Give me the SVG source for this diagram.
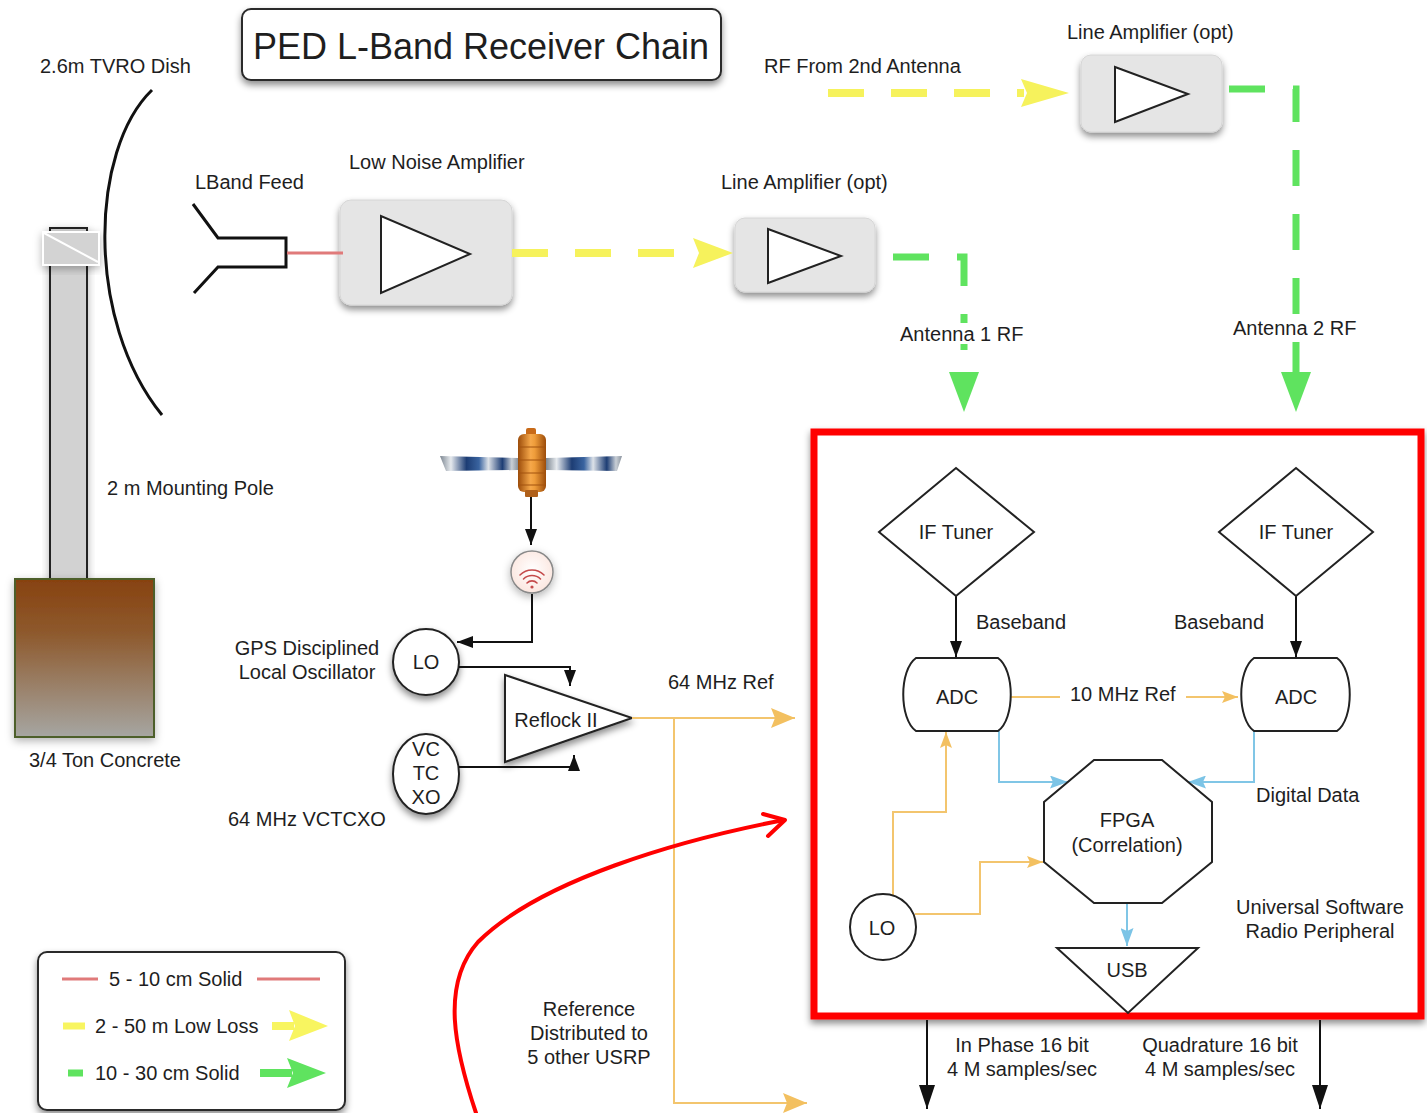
<svg xmlns="http://www.w3.org/2000/svg" width="1427" height="1113" viewBox="0 0 1427 1113">
  <defs>
    <style>
      .t { font-family: "Liberation Sans", Arial, sans-serif; font-size: 20px; fill: #1e1e1e; }
      .c { text-anchor: middle; }
      .shape { fill: #ffffff; stroke: #222222; stroke-width: 2; }
      .amp { fill: #e5e5e5; stroke: #d6d6d6; stroke-width: 1; }
      .thin { fill: none; stroke: #111111; stroke-width: 2; }
      .orange { fill: none; stroke: #f3c56e; stroke-width: 2; }
      .blue { fill: none; stroke: #80c6e6; stroke-width: 2; }
      .yellow { fill: none; stroke: #f6f25c; stroke-width: 8; stroke-dasharray: 36 27; }
      .green { fill: none; stroke: #5fe35f; stroke-width: 7; stroke-dasharray: 36 28; }
      .wifi { fill: none; stroke: #c44a4a; stroke-width: 1.6; stroke-linecap: round; }
    </style>
    <filter id="shadow" x="-20%" y="-20%" width="140%" height="150%">
      <feDropShadow dx="0" dy="4" stdDeviation="3.5" flood-color="#000000" flood-opacity="0.45"/>
    </filter>
    <filter id="softShadow" x="-20%" y="-20%" width="140%" height="150%">
      <feDropShadow dx="0" dy="3" stdDeviation="4" flood-color="#000000" flood-opacity="0.3"/>
    </filter>
    <marker id="arrBlack" viewBox="0 0 16 12" refX="16" refY="6" markerWidth="16" markerHeight="12" markerUnits="userSpaceOnUse" orient="auto">
      <path d="M0,0 L16,6 L0,12 Z" fill="#111111"/>
    </marker>
    <marker id="arrBlackBig" viewBox="0 0 24 16" refX="24" refY="8" markerWidth="24" markerHeight="16" markerUnits="userSpaceOnUse" orient="auto">
      <path d="M0,0 L24,8 L0,16 Z" fill="#111111"/>
    </marker>
    <marker id="arrOrange" viewBox="0 0 16 12" refX="16" refY="6" markerWidth="16" markerHeight="12" markerUnits="userSpaceOnUse" orient="auto">
      <path d="M0,0 L16,6 L0,12 L3,6 Z" fill="#f3c060"/>
    </marker>
    <marker id="arrOrangeBig" viewBox="0 0 24 20" refX="24" refY="10" markerWidth="24" markerHeight="20" markerUnits="userSpaceOnUse" orient="auto">
      <path d="M0,0 L24,10 L0,20 L4,10 Z" fill="#f3c060"/>
    </marker>
    <marker id="arrBlue" viewBox="0 0 18 13" refX="18" refY="6.5" markerWidth="18" markerHeight="13" markerUnits="userSpaceOnUse" orient="auto">
      <path d="M0,0 L18,6.5 L0,13 L3,6.5 Z" fill="#7cc4e6"/>
    </marker>
    <linearGradient id="concrete" x1="0" y1="0" x2="0" y2="1">
      <stop offset="0" stop-color="#874210"/>
      <stop offset="0.35" stop-color="#8e5a2e"/>
      <stop offset="1" stop-color="#a6a6a2"/>
    </linearGradient>
    <linearGradient id="satBody" x1="0" y1="0" x2="1" y2="0">
      <stop offset="0" stop-color="#9c4c0a"/>
      <stop offset="0.45" stop-color="#f6a84a"/>
      <stop offset="0.6" stop-color="#ee9c3a"/>
      <stop offset="1" stop-color="#9c4c0a"/>
    </linearGradient>
    <linearGradient id="panel" x1="0" y1="0" x2="1" y2="0">
      <stop offset="0" stop-color="#7d8792"/>
      <stop offset="0.14" stop-color="#e6eaee"/>
      <stop offset="0.34" stop-color="#1d3d74"/>
      <stop offset="0.5" stop-color="#3a64a0"/>
      <stop offset="0.62" stop-color="#dde2e8"/>
      <stop offset="0.8" stop-color="#1d3d74"/>
      <stop offset="0.92" stop-color="#c9cfd6"/>
      <stop offset="1" stop-color="#8a939e"/>
    </linearGradient>
    <radialGradient id="gpsFill" cx="0.5" cy="0.45" r="0.6">
      <stop offset="0" stop-color="#ffffff"/>
      <stop offset="1" stop-color="#fbe4dc"/>
    </radialGradient>
  </defs>

  <rect width="1427" height="1113" fill="#ffffff"/>

  <!-- Title -->
  <g id="title">
    <rect x="242" y="9" width="479" height="71" rx="9" fill="#ffffff" stroke="#2a2a2a" stroke-width="2" filter="url(#shadow)"/>
    <text class="t c" x="481" y="59" style="font-size:36px">PED L-Band Receiver Chain</text>
  </g>

  <!-- Antenna mount: pole, bracket, concrete base -->
  <g id="pole">
    <rect x="50" y="228" width="37" height="352" fill="#d2d2d2" stroke="#222222" stroke-width="2" filter="url(#softShadow)"/>
    <text class="t" x="107" y="495">2 m Mounting Pole</text>
  </g>
  <g id="bracket">
    <rect x="43" y="232" width="56" height="33" fill="#d3d3d3" stroke="#ffffff" stroke-width="2" filter="url(#softShadow)"/>
    <line x1="44" y1="233" x2="98" y2="262" stroke="#ffffff" stroke-width="2"/>
  </g>
  <g id="concrete-base">
    <rect x="15" y="579" width="139" height="158" fill="url(#concrete)" stroke="#4e5e2c" stroke-width="2" filter="url(#softShadow)"/>
    <text class="t" x="29" y="767">3/4 Ton Concrete</text>
  </g>

  <!-- Dish -->
  <g id="dish">
    <path d="M152,90 C90,150 85,320 162,415" fill="none" stroke="#111111" stroke-width="3"/>
    <text class="t" x="40" y="73">2.6m TVRO Dish</text>
  </g>

  <!-- Feed horn -->
  <g id="feed">
    <polyline points="193,204 218,238 286,238 286,267 218,267 194,293" fill="none" stroke="#111111" stroke-width="3"/>
    <text class="t" x="195" y="189">LBand Feed</text>
  </g>

  <!-- Amplifiers -->
  <g id="lna">
    <rect class="amp" x="340" y="200" width="172" height="105" rx="11" filter="url(#shadow)"/>
    <polygon class="shape" points="381,216 381,293 470,254"/>
    <text class="t" x="349" y="169">Low Noise Amplifier</text>
  </g>
  <g id="line-amp-1">
    <rect class="amp" x="735" y="218" width="140" height="74" rx="10" filter="url(#shadow)"/>
    <polygon class="shape" points="768,229 768,283 841,256"/>
    <text class="t" x="721" y="189">Line Amplifier (opt)</text>
  </g>
  <g id="line-amp-2">
    <rect class="amp" x="1081" y="55" width="141" height="77" rx="10" filter="url(#shadow)"/>
    <polygon class="shape" points="1115,67 1115,122 1188,94"/>
    <text class="t" x="1067" y="39">Line Amplifier (opt)</text>
  </g>
  <g id="rf-2nd-antenna">
    <text class="t" x="764" y="73">RF From 2nd Antenna</text>
  </g>

  <!-- GPS satellite and antenna -->
  <g id="satellite">
    <polygon points="440,456 518,458 518,470 446,471" fill="url(#panel)"/>
    <polygon points="546,458 622,456 617,471 546,470" fill="url(#panel)"/>
    <rect x="526" y="428" width="10" height="8" rx="2" fill="#c86a18"/>
    <rect x="518" y="434" width="28" height="58" rx="6" fill="url(#satBody)"/>
    <g stroke="#a2520e" stroke-width="1">
      <line x1="519" y1="447" x2="545" y2="447"/>
      <line x1="519" y1="460" x2="545" y2="460"/>
      <line x1="519" y1="473" x2="545" y2="473"/>
      <line x1="519" y1="485" x2="545" y2="485"/>
    </g>
    <rect x="525" y="490" width="13" height="7" rx="1" fill="#b0601a"/>
  </g>
  <g id="gps-antenna">
    <circle cx="532" cy="572" r="21" fill="url(#gpsFill)" stroke="#8a8a8a" stroke-width="1.5" filter="url(#softShadow)"/>
    <path class="wifi" d="M520,575 A17,17 0 0 1 544,575"/>
    <path class="wifi" d="M523.5,579 A12,12 0 0 1 540.5,579"/>
    <path class="wifi" d="M527,583 A7,7 0 0 1 537,583"/>
    <circle cx="532" cy="587" r="1.6" fill="#c44a4a"/>
  </g>

  <!-- Timing chain -->
  <g id="gps-lo">
    <circle class="shape" cx="426" cy="662" r="33" filter="url(#shadow)"/>
    <text class="t c" x="426" y="669">LO</text>
    <text class="t c" x="307" y="655">GPS Disciplined</text>
    <text class="t c" x="307" y="679">Local Oscillator</text>
  </g>
  <g id="vctcxo">
    <ellipse class="shape" cx="426" cy="774" rx="33" ry="40" filter="url(#shadow)"/>
    <text class="t c" x="426" y="756">VC</text>
    <text class="t c" x="426" y="780">TC</text>
    <text class="t c" x="426" y="804">XO</text>
    <text class="t" x="228" y="826">64 MHz VCTCXO</text>
  </g>
  <g id="reflock">
    <polygon class="shape" points="505,675 505,762 632,718" filter="url(#shadow)"/>
    <text class="t c" x="556" y="727">Reflock II</text>
  </g>

  <!-- USRP enclosure -->
  <g id="usrp">
    <rect x="814" y="432" width="607" height="584" fill="#ffffff" stroke="#ff0000" stroke-width="7" filter="url(#shadow)"/>
    <text class="t c" x="1320" y="914">Universal Software</text>
    <text class="t c" x="1320" y="938">Radio Peripheral</text>
  </g>

  <!-- Connectors -->
  <g id="connectors">
    <!-- RF cabling -->
    <line x1="287" y1="253" x2="343" y2="253" stroke="#e07a7a" stroke-width="3"/>
    <path class="yellow" d="M512,253 H696"/>
    <polygon points="693,238 733,253 693,268 699,253" fill="#f6f25c"/>
    <path class="yellow" d="M828,93 H1024"/>
    <polygon points="1021,79 1069,93 1021,107 1027,93" fill="#f6f25c"/>
    <path class="green" d="M893,257 H964 V374"/>
    <polygon points="949,372 979,372 964,412" fill="#5fe35f"/>
    <path class="green" d="M1229,89 H1296 V374"/>
    <polygon points="1281,372 1311,372 1296,412" fill="#5fe35f"/>

    <!-- GPS / reference path -->
    <path class="thin" d="M531,497 V545" marker-end="url(#arrBlack)"/>
    <path class="thin" d="M532,594 V642 H457" marker-end="url(#arrBlack)"/>
    <path class="thin" d="M459,667 H570 V686" marker-end="url(#arrBlack)"/>
    <path class="thin" d="M459,767 H574 V755" marker-end="url(#arrBlack)"/>
    <path class="orange" d="M632,718 H795" stroke-width="2.5" marker-end="url(#arrOrangeBig)"/>
    <path class="orange" d="M674,718 V1103 H807" stroke-width="2.5" marker-end="url(#arrOrangeBig)"/>

    <!-- Inside the USRP -->
    <path class="thin" d="M956,596 V657" marker-end="url(#arrBlack)"/>
    <path class="thin" d="M1296,596 V657" marker-end="url(#arrBlack)"/>
    <path class="orange" d="M1011,697 H1060" stroke-width="1.5"/>
    <path class="orange" d="M1186,697 H1238" stroke-width="1.5" marker-end="url(#arrOrange)"/>
    <path class="blue" d="M999,731 V782 H1068" marker-end="url(#arrBlue)"/>
    <path class="blue" d="M1254,731 V782 H1188" marker-end="url(#arrBlue)"/>
    <path class="blue" d="M1127,904 V946" marker-end="url(#arrBlue)"/>
    <path class="orange" d="M893,896 V812 H946 V732" marker-end="url(#arrOrange)"/>
    <path class="orange" d="M915,914 H980 V862 H1043" marker-end="url(#arrOrange)"/>

    <!-- Sample outputs -->
    <path class="thin" d="M927,1020 V1109" stroke-width="2.5" marker-end="url(#arrBlackBig)"/>
    <path class="thin" d="M1320,1020 V1109" stroke-width="2.5" marker-end="url(#arrBlackBig)"/>

    <!-- Callout -->
    <path d="M476,1113 C455,1050 440,985 478,942 C540,880 680,840 784,820" fill="none" stroke="#ff0000" stroke-width="4" stroke-linecap="round"/>
    <polyline points="763,814 785,820 768,836" fill="none" stroke="#ff0000" stroke-width="4" stroke-linecap="round" stroke-linejoin="round"/>
  </g>

  <!-- Connector labels -->
  <g id="link-labels">
    <rect x="897" y="323" width="128" height="21" fill="#ffffff"/>
    <text class="t" x="900" y="341">Antenna 1 RF</text>
    <text class="t" x="1233" y="335">Antenna 2 RF</text>
    <text class="t" x="668" y="689">64 MHz Ref</text>
    <text class="t c" x="589" y="1016">Reference</text>
    <text class="t c" x="589" y="1040">Distributed to</text>
    <text class="t c" x="589" y="1064">5 other USRP</text>
    <text class="t" x="976" y="629">Baseband</text>
    <text class="t" x="1174" y="629">Baseband</text>
    <text class="t" x="1070" y="701">10 MHz Ref</text>
    <text class="t" x="1256" y="802">Digital Data</text>
    <text class="t c" x="1022" y="1052">In Phase 16 bit</text>
    <text class="t c" x="1022" y="1076">4 M samples/sec</text>
    <text class="t c" x="1220" y="1052">Quadrature 16 bit</text>
    <text class="t c" x="1220" y="1076">4 M samples/sec</text>
  </g>

  <!-- USRP internals -->
  <g id="if-tuner-1">
    <polygon class="shape" points="956,468 1034,532 956,596 879,532"/>
    <text class="t c" x="956" y="539">IF Tuner</text>
  </g>
  <g id="if-tuner-2">
    <polygon class="shape" points="1296,468 1373,532 1296,596 1219,532"/>
    <text class="t c" x="1296" y="539">IF Tuner</text>
  </g>
  <g id="adc-1">
    <path class="shape" d="M916,658 H998 C1015,670 1015,719 998,731 H916 C899,719 899,670 916,658 Z"/>
    <text class="t c" x="957" y="704">ADC</text>
  </g>
  <g id="adc-2">
    <path class="shape" d="M1254,658 H1337 C1354,670 1354,719 1337,731 H1254 C1237,719 1237,670 1254,658 Z"/>
    <text class="t c" x="1296" y="704">ADC</text>
  </g>
  <g id="fpga">
    <polygon class="shape" points="1094,760 1162,760 1212,802 1212,862 1162,903 1094,903 1044,862 1044,802"/>
    <text class="t c" x="1127" y="827">FPGA</text>
    <text class="t c" x="1127" y="852">(Correlation)</text>
  </g>
  <g id="usrp-lo">
    <circle class="shape" cx="883" cy="927" r="33"/>
    <text class="t c" x="882" y="935">LO</text>
  </g>
  <g id="usb">
    <polygon class="shape" points="1057,948 1198,948 1128,1013"/>
    <text class="t c" x="1127" y="977">USB</text>
  </g>

  <!-- Legend -->
  <g id="legend">
    <rect x="38" y="952" width="307" height="158" rx="9" fill="#ffffff" stroke="#2a2a2a" stroke-width="2" filter="url(#shadow)"/>
    <line x1="62" y1="979" x2="98" y2="979" stroke="#e07a7a" stroke-width="3"/>
    <text class="t" x="109" y="986">5 - 10 cm Solid</text>
    <line x1="257" y1="979" x2="320" y2="979" stroke="#e07a7a" stroke-width="3"/>
    <line x1="63" y1="1026" x2="85" y2="1026" stroke="#f8f560" stroke-width="7"/>
    <text class="t" x="95" y="1033">2 - 50 m Low Loss</text>
    <line x1="272" y1="1026" x2="294" y2="1026" stroke="#f8f560" stroke-width="8"/>
    <polygon points="289,1010 328,1026 289,1041 295,1026" fill="#f8f560"/>
    <line x1="68" y1="1073" x2="83" y2="1073" stroke="#5fe35f" stroke-width="7"/>
    <text class="t" x="95" y="1080">10 - 30 cm Solid</text>
    <line x1="260" y1="1073" x2="292" y2="1073" stroke="#5fe35f" stroke-width="8"/>
    <polygon points="287,1058 326,1073 287,1088 293,1073" fill="#5fe35f"/>
  </g>
</svg>
